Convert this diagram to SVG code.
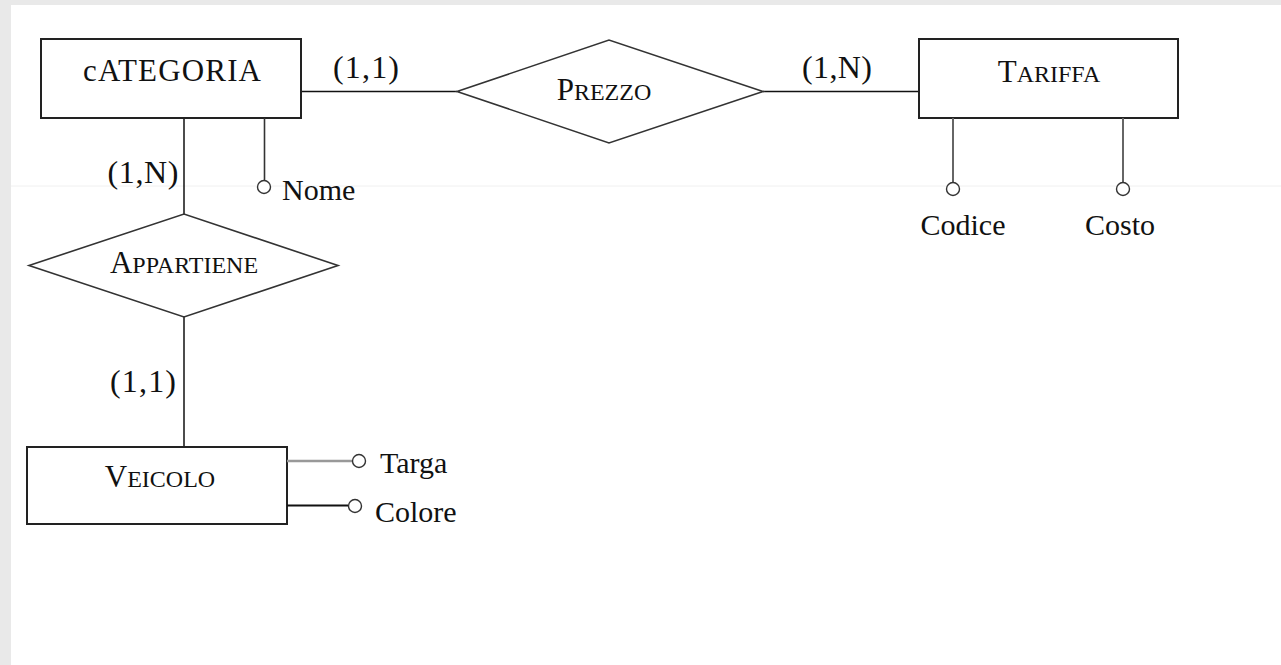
<svg xmlns="http://www.w3.org/2000/svg" width="1281" height="665" viewBox="0 0 1281 665">
<style>
.ent{fill:#fff;stroke:#222;stroke-width:2}
.rel{fill:#fff;stroke:#333;stroke-width:1.6}
.t{font-family:"Liberation Serif","Times New Roman",serif;fill:#111}
.big{font-size:31px}
.sc{font-size:24px}
.lbl{font-family:"Liberation Serif","Times New Roman",serif;font-size:32px;fill:#111;text-anchor:middle}
.attr{font-family:"Liberation Serif","Times New Roman",serif;font-size:30px;fill:#111}
.c{fill:none;stroke:#111;stroke-width:1.5}
.ga{fill:none;stroke:#666;stroke-width:2}
.dot{fill:#fff;stroke:#333;stroke-width:1.4}
</style>
<rect x="0" y="0" width="1281" height="665" fill="#e9e9e9"/>
<rect x="11" y="5" width="1270" height="660" fill="#fff"/>
<line x1="11" y1="186" x2="1281" y2="186" stroke="#f0f0f0" stroke-width="1"/>
<g id="connectors">
<line class="c" x1="301" y1="91.5" x2="457" y2="91.5"/>
<line class="c" x1="763" y1="91.5" x2="919" y2="91.5"/>
<line class="c" x1="184" y1="118" x2="184" y2="214"/>
<line class="c" x1="184" y1="317" x2="184" y2="447"/>
</g>
<g id="labels">
<text class="lbl" x="366" y="78" textLength="66">(1,1)</text>
<text class="lbl" x="837" y="78" textLength="70">(1,N)</text>
<text class="lbl" x="143" y="183" textLength="71">(1,N)</text>
<text class="lbl" x="143" y="392" textLength="66">(1,1)</text>
</g>
<g id="categoria">
<rect class="ent" x="41" y="39" width="260" height="79"/>
<text class="t big" x="172" y="81" text-anchor="middle" textLength="178">cATEGORIA</text>
</g>
<g id="prezzo">
<polygon class="rel" points="457,91.5 609,40 763,91.5 609,143"/>
<text class="t" x="604" y="100" text-anchor="middle"><tspan class="big">P</tspan><tspan class="sc">REZZO</tspan></text>
</g>
<g id="tariffa">
<rect class="ent" x="919" y="39" width="259" height="79"/>
<text class="t" x="1049" y="82" text-anchor="middle"><tspan class="big">T</tspan><tspan class="sc">ARIFFA</tspan></text>
</g>
<g id="appartiene">
<polygon class="rel" points="29,265.5 184,214 338,265.5 184,317"/>
<text class="t" x="184" y="273" text-anchor="middle"><tspan class="big">A</tspan><tspan class="sc">PPARTIENE</tspan></text>
</g>
<g id="veicolo">
<rect class="ent" x="27" y="447" width="260" height="77"/>
<text class="t" x="160" y="487" text-anchor="middle"><tspan class="big">V</tspan><tspan class="sc">EICOLO</tspan></text>
</g>
<g id="attr-nome">
<line x1="264.5" y1="118" x2="264.5" y2="180" stroke="#333" stroke-width="1.6"/>
<circle class="dot" cx="264" cy="187" r="6.5"/>
<text class="attr" x="282" y="200">Nome</text>
</g>
<g id="attr-codice">
<line class="ga" x1="953" y1="118" x2="953" y2="182"/>
<circle class="dot" cx="953" cy="189" r="6.5"/>
<text class="attr" x="963" y="235" text-anchor="middle">Codice</text>
</g>
<g id="attr-costo">
<line class="ga" x1="1123" y1="118" x2="1123" y2="182"/>
<circle class="dot" cx="1123" cy="189" r="6.5"/>
<text class="attr" x="1120" y="235" text-anchor="middle">Costo</text>
</g>
<g id="attr-targa">
<line x1="287" y1="461" x2="352" y2="461" stroke="#999" stroke-width="2.5"/>
<circle class="dot" cx="359" cy="461" r="6.5"/>
<text class="attr" x="380" y="473">Targa</text>
</g>
<g id="attr-colore">
<line x1="287" y1="505.5" x2="348" y2="505.5" stroke="#111" stroke-width="2"/>
<circle class="dot" cx="355" cy="506" r="6.5"/>
<text class="attr" x="375" y="522">Colore</text>
</g>
</svg>
